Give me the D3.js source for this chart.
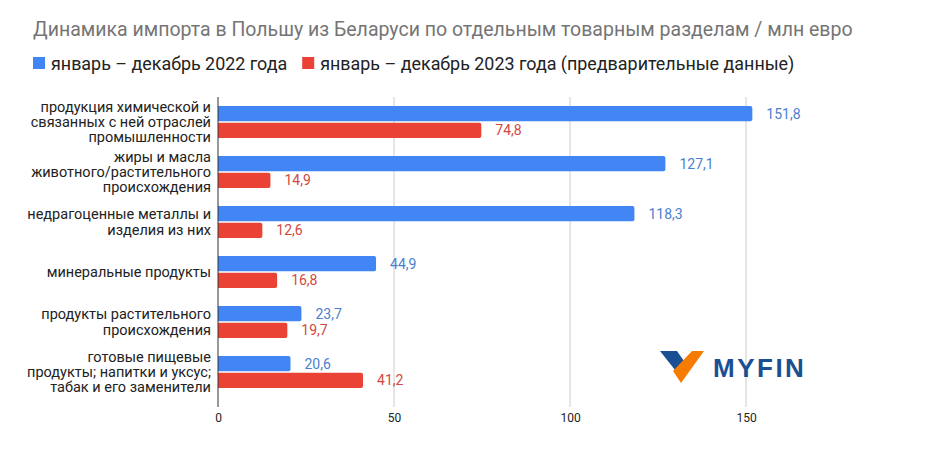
<!DOCTYPE html>
<html><head><meta charset="utf-8">
<script src="https://cdn.jsdelivr.net/npm/d3@7"></script>
<style>body{margin:0;background:#fff}svg{display:block;font-family:Roboto,Arial,sans-serif}</style>
</head><body><svg id="c" width="936" height="450"></svg>
<script>
const categories = [
  ["продукция химической и","связанных с ней отраслей","промышленности"],
  ["жиры и масла","животного/растительного","происхождения"],
  ["недрагоценные металлы и","изделия из них"],
  ["минеральные продукты"],
  ["продукты растительного","происхождения"],
  ["готовые пищевые","продукты; напитки и уксус;","табак и его заменители"]
];
const values2022 = [151.8, 127.1, 118.3, 44.9, 23.7, 20.6];
const values2023 = [74.8, 14.9, 12.6, 16.8, 19.7, 41.2];
const seriesNames = ["январь – декабрь 2022 года", "январь – декабрь 2023 года (предварительные данные)"];
const tickValues = [0, 50, 100, 150];
const title = "Динамика импорта в Польшу из Беларуси по отдельным товарным разделам / млн евро";

const colors = ["#4285f4", "#ea4335"];
const labelColors = ["#4a7fcf", "#d2483f"];
const svg = d3.select("#c");

svg.append("text").attr("x", 33).attr("y", 36).attr("font-size", 19.5).attr("fill", "#757575").text(title);

// legend
const leg = svg.append("g");
let lx = 33;
seriesNames.forEach((n, i) => {
  leg.append("rect").attr("x", lx).attr("y", 57).attr("width", 12).attr("height", 12).attr("fill", colors[i]);
  const t = leg.append("text").attr("x", lx + 18).attr("y", 69.5).attr("font-size", 17.9).attr("fill", "#222").text(n);
  lx += 18 + t.node().getComputedTextLength() + 15;
});

const x = d3.scaleLinear().domain([0, 150]).range([218, 746]);
const y = d3.scaleBand().domain(d3.range(categories.length)).range([97, 397]).paddingInner(0.36).paddingOuter(0.18);
const sub = d3.scaleBand().domain([0, 1]).range([0, y.bandwidth()]).paddingInner(0.08);

// gridlines
svg.append("g").selectAll("line").data(tickValues.filter(d => d > 0)).join("line")
  .attr("x1", d => x(d)).attr("x2", d => x(d)).attr("y1", 97).attr("y2", 407)
  .attr("stroke", "#cccccc").attr("stroke-width", 1);

// x axis labels
const xAxis = d3.axisBottom(x).tickValues(tickValues).tickSize(0).tickPadding(0).tickFormat(d3.format("d"));
const ax = svg.append("g").attr("transform", "translate(0,413)").call(xAxis);
ax.select(".domain").remove();
ax.selectAll("text").attr("font-size", 12).attr("fill", "#222").attr("font-family", "Roboto,Arial,sans-serif");

const series = [values2022, values2023];
series.forEach((vals, s) => {
  const g = svg.append("g");
  g.selectAll("path").data(vals).join("path")
    .attr("fill", colors[s])
    .attr("d", (d, i) => {
      const x0 = x(0), x1 = x(d), y0 = y(i) + sub(s), h = sub.bandwidth(), r = 2;
      return `M${x0},${y0}H${x1 - r}Q${x1},${y0} ${x1},${y0 + r}V${y0 + h - r}Q${x1},${y0 + h} ${x1 - r},${y0 + h}H${x0}Z`;
    });
  g.selectAll("text").data(vals).join("text")
    .attr("x", d => x(d) + 14)
    .attr("y", (d, i) => y(i) + sub(s) + sub.bandwidth() / 2)
    .attr("dy", "0.35em").attr("font-size", 14).attr("fill", labelColors[s])
    .text(d => d3.format(".1f")(d).replace(".", ","));
});

// zero axis line
svg.append("line").attr("x1", x(0)).attr("x2", x(0)).attr("y1", 97).attr("y2", 407).attr("stroke", "#333").attr("stroke-width", 1);

// category labels
categories.forEach((lines, i) => {
  const cy = y(i) + y.bandwidth() / 2;
  const lh = 15.3;
  const t = svg.append("text").attr("text-anchor", "end").attr("font-size", 14.5).attr("fill", "#222");
  lines.forEach((ln, k) => {
    t.append("tspan").attr("x", 211).attr("y", cy + (k - (lines.length - 1) / 2) * lh).attr("dy", "0.35em").text(ln);
  });
});

// logo
const logo = svg.append("g");
logo.append("path").attr("d", "M660,351L677,351L686,364L679,375Z").attr("fill", "#1b4f93");
logo.append("path").attr("d", "M692,351L704,351L681,383L673,371Z").attr("fill", "#f57c00");
logo.append("text").attr("x", 713).attr("y", 377).attr("font-family", "Arial,Liberation Sans,sans-serif")
  .attr("font-weight", "bold").attr("font-size", 26).attr("letter-spacing", 2.5).attr("fill", "#1b4f93").text("MYFIN");
</script></body></html>
